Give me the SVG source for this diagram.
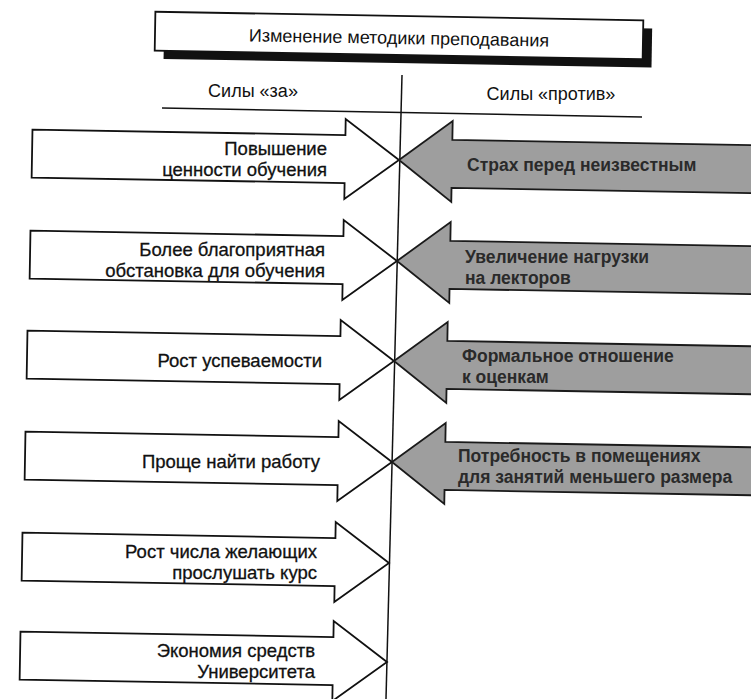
<svg xmlns="http://www.w3.org/2000/svg" width="751" height="699" viewBox="0 0 751 699">
<style>
.w{fill:#fff;stroke:#111;stroke-width:1.8;stroke-linejoin:miter}
.g{fill:#9e9e9e;stroke:#1a1a1a;stroke-width:1.8;stroke-linejoin:miter}
.lt{font-family:"Liberation Sans",Arial,sans-serif;font-size:18.5px;fill:#111;stroke:#111;stroke-width:0.3;text-anchor:end}
.rt{font-family:"Liberation Sans",Arial,sans-serif;font-size:17.5px;font-weight:bold;fill:#2a2a2a}
.hd{font-family:"Liberation Sans",Arial,sans-serif;font-size:18px;fill:#111;text-anchor:middle}
.ln{stroke:#111;stroke-width:1.5;fill:none}
</style>
<defs>
<polygon id="la" points="-367,-24 -54,-24 -54,-40 0,0 -54,40 -54,24 -367,24" transform="rotate(1)"/>
<polygon id="ra" points="0,0 53,-40 53,-21 420,-21 420,27 53,27 53,41" transform="rotate(1)"/>
</defs>
<rect width="751" height="699" fill="#fff"/>
<g id="title" transform="rotate(1 399 36)">
<rect x="164" y="24" width="488" height="39" fill="#111"/>
<rect x="155" y="16" width="488" height="39" fill="#fff" stroke="#111" stroke-width="1.8"/>
<text class="hd" x="399" y="44">Изменение методики преподавания</text>
</g>
<g id="headers">
<text class="hd" x="253" y="97">Силы «за»</text>
<text class="hd" x="551" y="100">Силы «против»</text>
</g>
<g id="dividers">
<line class="ln" x1="162" y1="108" x2="642" y2="117"/>
<line class="ln" x1="402" y1="75" x2="386" y2="699"/>
</g>
<g id="for1" transform="translate(399 160)">
<use href="#la" class="w"/>
<text class="lt" x="-72" y="-5">Повышение</text>
<text class="lt" x="-72" y="16">ценности обучения</text>
</g>
<g id="for2" transform="translate(397 261)">
<use href="#la" class="w"/>
<text class="lt" x="-72" y="-5">Более благоприятная</text>
<text class="lt" x="-72" y="16">обстановка для обучения</text>
</g>
<g id="for3" transform="translate(394 361)">
<use href="#la" class="w"/>
<text class="lt" x="-72" y="6">Рост успеваемости</text>
</g>
<g id="for4" transform="translate(392 462)">
<use href="#la" class="w"/>
<text class="lt" x="-72" y="6">Проще найти работу</text>
</g>
<g id="for5" transform="translate(389 563)">
<use href="#la" class="w"/>
<text class="lt" x="-72" y="-5">Рост числа желающих</text>
<text class="lt" x="-72" y="16">прослушать курс</text>
</g>
<g id="for6" transform="translate(387 662)">
<use href="#la" class="w"/>
<text class="lt" x="-72" y="-5">Экономия средств</text>
<text class="lt" x="-72" y="16">Университета</text>
</g>
<g id="against1" transform="translate(399 160)">
<use href="#ra" class="g"/>
<text class="rt" x="68" y="11">Страх перед неизвестным</text>
</g>
<g id="against2" transform="translate(397 261)">
<use href="#ra" class="g"/>
<text class="rt" x="68" y="2">Увеличение нагрузки</text>
<text class="rt" x="68" y="23">на лекторов</text>
</g>
<g id="against3" transform="translate(394 361)">
<use href="#ra" class="g"/>
<text class="rt" x="68" y="1">Формальное отношение</text>
<text class="rt" x="68" y="22">к оценкам</text>
</g>
<g id="against4" transform="translate(392 462)">
<use href="#ra" class="g"/>
<text class="rt" x="66" y="0">Потребность в помещениях</text>
<text class="rt" x="66" y="21">для занятий меньшего размера</text>
</g>
</svg>
